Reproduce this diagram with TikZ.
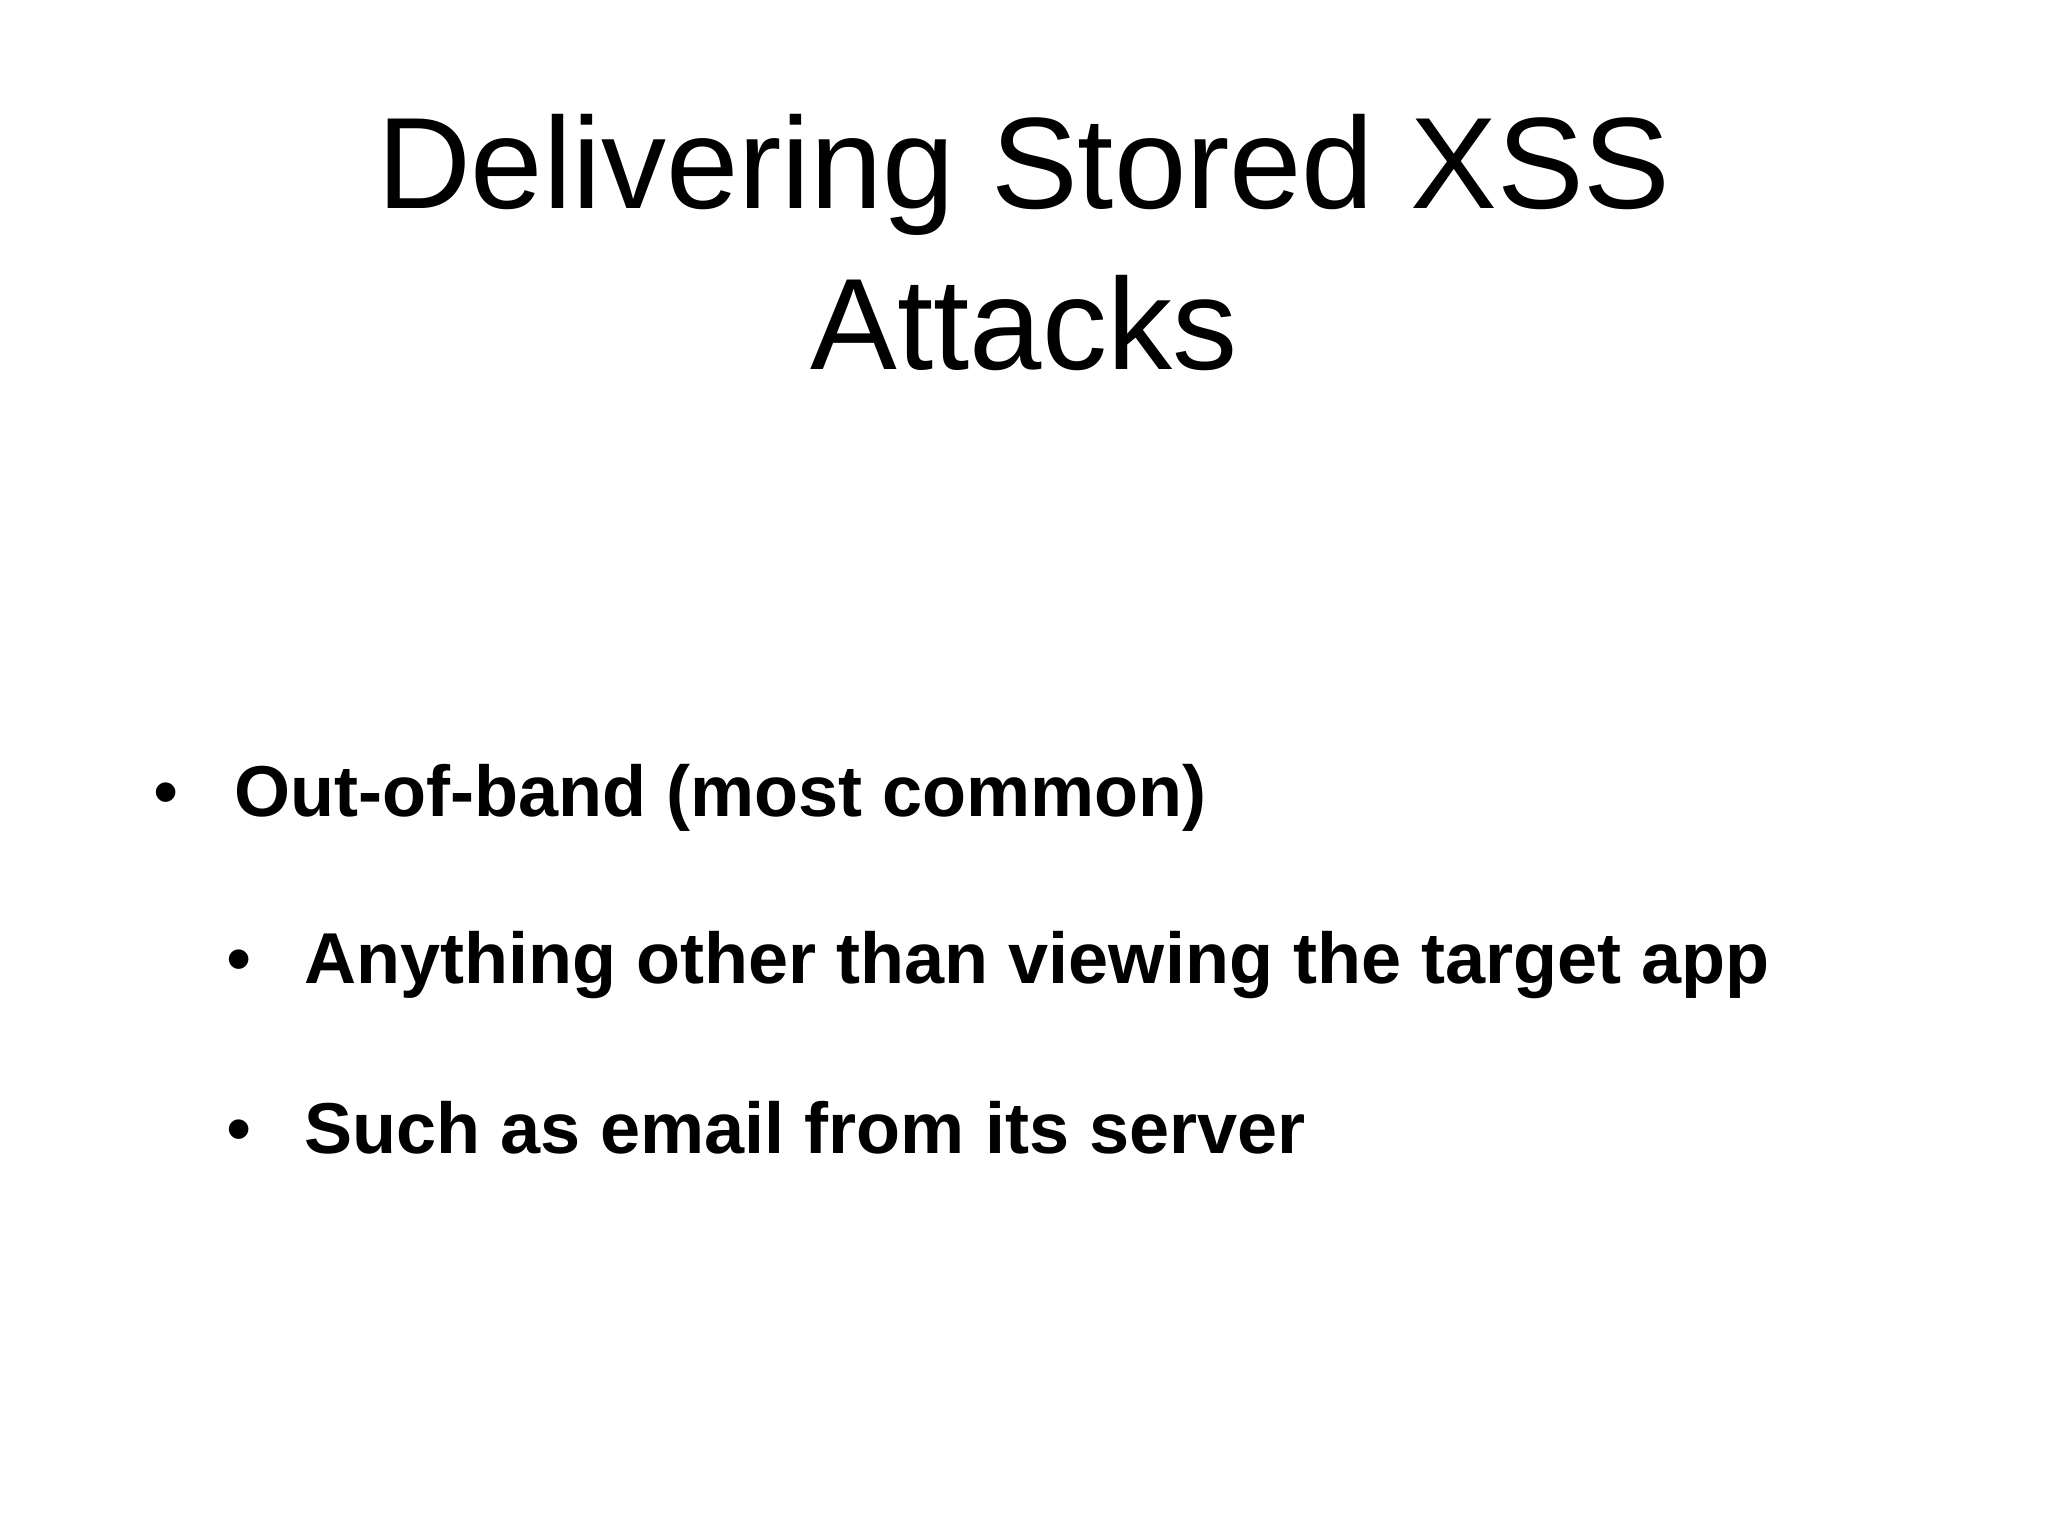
\documentclass[tikz,border=0pt]{standalone}
\usepackage{fontspec}
\setmainfont{Liberation Sans}
\begin{document}
\begin{tikzpicture}[x=1cm,y=1cm,
  title/.style={anchor=base,font=\fontsize{37}{44}\selectfont},
  item/.style={anchor=base west,font=\fontsize{20.5}{24}\selectfont\bfseries},
  dot/.style={anchor=base,font=\fontsize{20.5}{24}\selectfont}]
\useasboundingbox[fill=white] (0,0) rectangle (20.48,-15.36);
\node[title] (t1) at (10.24,-2.09) {Delivering Stored XSS};
\node[title] (t2) at (10.24,-3.70) {Attacks};
\node[dot] (b1) at (1.66,-8.16) {•};
\node[item] (i1) at (2.22,-8.16) {Out-of-band (most common)};
\node[dot] (b2) at (2.39,-9.83) {•};
\node[item] (i2) at (2.92,-9.83) {Anything other than viewing the target app};
\node[dot] (b3) at (2.39,-11.53) {•};
\node[item] (i3) at (2.92,-11.53) {Such as email from its server};
\end{tikzpicture}
\end{document}
